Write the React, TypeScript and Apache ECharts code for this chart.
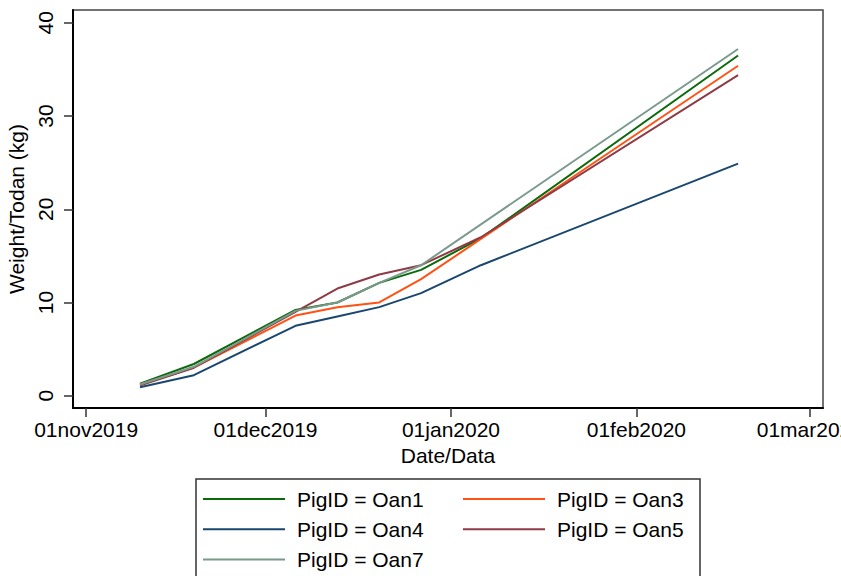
import React, { useEffect, useRef } from "react";
import * as echarts from "echarts";

const datesFull = ["2019-11-10", "2019-11-19", "2019-12-06", "2019-12-13", "2019-12-20", "2019-12-27", "2020-01-06", "2020-02-18"];
const datesNoJan = ["2019-11-10", "2019-11-19", "2019-12-06", "2019-12-13", "2019-12-20", "2019-12-27", "2020-02-18"];

const oan1 = [1.3, 3.4, 9.2, 10.0, 12.1, 13.5, 16.9, 36.5];
const oan3 = [1.2, 3.0, 8.6, 9.5, 10.0, 12.5, 35.4];
const oan4 = [0.9, 2.2, 7.5, 8.5, 9.5, 11.0, 14.0, 24.9];
const oan5 = [1.1, 3.0, 9.0, 11.5, 13.0, 14.0, 17.0, 34.4];
const oan7 = [1.2, 3.1, 9.1, 10.0, 12.1, 14.0, 37.2];

const xTickDates = ["2019-11-01", "2019-12-01", "2020-01-01", "2020-02-01", "2020-03-01"];
const xTickLabels = ["01nov2019", "01dec2019", "01jan2020", "01feb2020", "01mar2020"];
const yTicks = [0, 10, 20, 30, 40];

const FONT = "Liberation Sans";

// day number (UTC-based, timezone independent)
function dayNum(s: string): number {
  const [y, m, d] = s.split("-").map(Number);
  return Date.UTC(y, m - 1, d) / 86400000;
}

export default function App() {
  const ref = useRef<HTMLDivElement>(null);
  useEffect(() => {
    if (!ref.current) return;
    const chart = echarts.init(ref.current, null, { renderer: "svg" });
    const xTickVals = xTickDates.map(dayNum);
    const mk = (dates: string[], vals: number[]) => dates.map((d, i) => [dayNum(d), vals[i]]);
    const seriesDefs = [
      { name: "PigID = Oan1", dates: datesFull, vals: oan1, color: "#0b6a0b" },
      { name: "PigID = Oan3", dates: datesNoJan, vals: oan3, color: "#ff5214" },
      { name: "PigID = Oan4", dates: datesFull, vals: oan4, color: "#1a476f" },
      { name: "PigID = Oan5", dates: datesFull, vals: oan5, color: "#8e3b45" },
      { name: "PigID = Oan7", dates: datesNoJan, vals: oan7, color: "#7a9a8c" },
    ];
    const legendCommon = {
      orient: "vertical",
      top: 487,
      padding: 0,
      itemGap: 6.3,
      itemWidth: 82,
      itemHeight: 2,
      icon: "rect",
      selectedMode: false,
      textStyle: { fontFamily: FONT, fontSize: 21, color: "#000", lineHeight: 24, padding: [0, 0, 0, 7] },
    };
    chart.setOption({
      animation: false,
      backgroundColor: "#fff",
      grid: {
        left: 73,
        right: 18,
        top: 10,
        bottom: 168,
        show: true,
        borderColor: "#444",
        borderWidth: 1.5,
        containLabel: false,
        outerBoundsMode: "none",
      },
      xAxis: {
        type: "value",
        min: xTickVals[0] - 2.2,
        max: xTickVals[0] + 123.2,
        name: "Date/Data",
        nameLocation: "middle",
        nameGap: 32,
        nameTextStyle: { fontFamily: FONT, fontSize: 21, color: "#000" },
        axisLine: { onZero: false, lineStyle: { color: "#000", width: 2 } },
        axisTick: { show: true, length: 9, lineStyle: { color: "#333", width: 1.5 }, customValues: xTickVals },
        axisLabel: {
          customValues: xTickVals,
          margin: 11,
          fontFamily: FONT,
          fontSize: 21,
          color: "#000",
          formatter: (v: number) => {
            const i = xTickVals.findIndex((t) => Math.abs(t - v) < 0.5);
            return i >= 0 ? xTickLabels[i] : "";
          },
        },
        splitLine: { show: false },
      },
      yAxis: {
        type: "value",
        min: -1.32,
        max: 41.38,
        name: "Weight/Todan (kg)",
        nameLocation: "middle",
        nameRotate: 90,
        nameGap: 39,
        nameTextStyle: { fontFamily: FONT, fontSize: 21, color: "#000" },
        axisLine: { show: true, onZero: false, lineStyle: { color: "#000", width: 2 } },
        axisTick: { show: true, length: 9, lineStyle: { color: "#333", width: 1.5 }, customValues: yTicks },
        axisLabel: {
          customValues: yTicks,
          rotate: 90,
          margin: 17,
          fontFamily: FONT,
          fontSize: 21,
          color: "#000",
        },
        splitLine: { show: false },
      },
      legend: [
        { ...legendCommon, left: 203, data: ["PigID = Oan1", "PigID = Oan4", "PigID = Oan7"] },
        { ...legendCommon, left: 463, data: ["PigID = Oan3", "PigID = Oan5"] },
      ],
      graphic: [
        {
          type: "rect",
          shape: { x: 196, y: 479, width: 504, height: 130 },
          style: { fill: "none", stroke: "#333", lineWidth: 1.5 },
          silent: true,
        },
      ],
      series: seriesDefs.map((s) => ({
        name: s.name,
        type: "line",
        data: mk(s.dates, s.vals),
        showSymbol: false,
        symbol: "none",
        color: s.color,
        lineStyle: { color: s.color, width: 2 },
      })),
    });
    return () => chart.dispose();
  }, []);
  return <div ref={ref} style={{ width: 841, height: 576, position: "absolute", left: 0, top: 0 }} />;
}
